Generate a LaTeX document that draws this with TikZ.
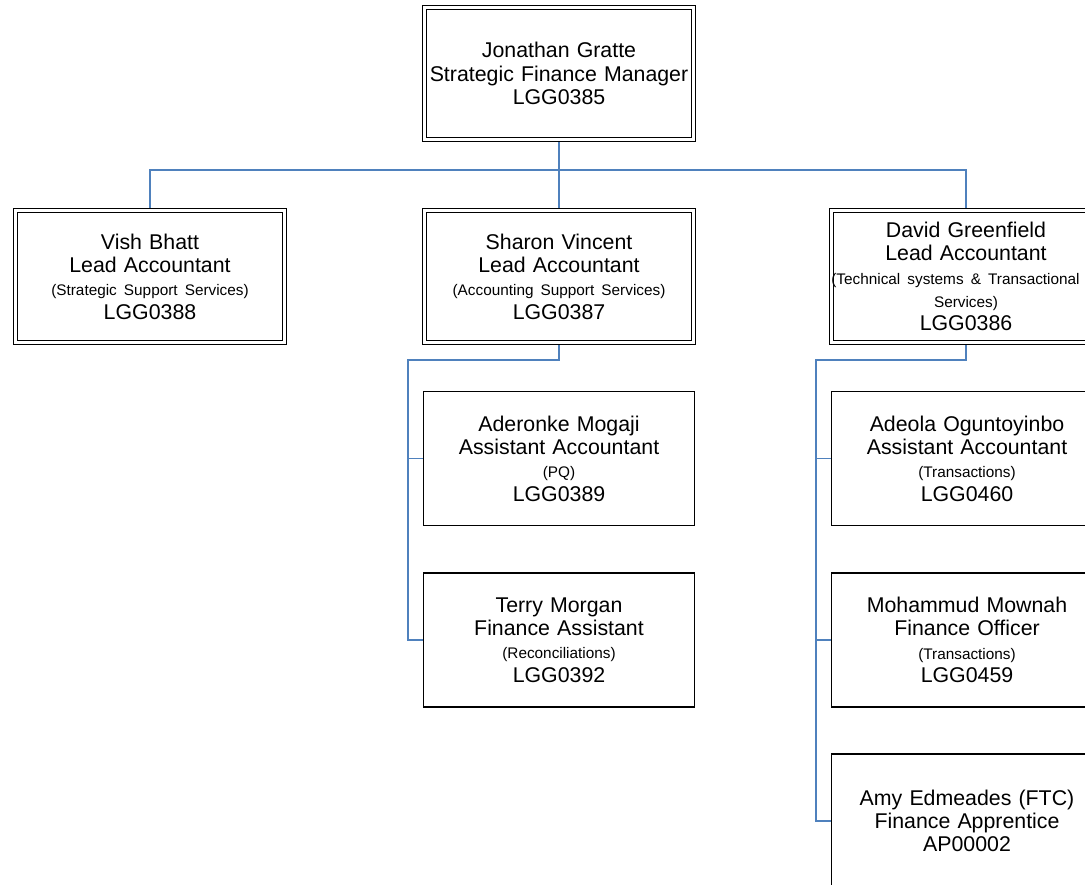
\documentclass[tikz,border=0pt]{standalone}
\usepackage{fontspec}
\setmainfont{Liberation Sans}
\definecolor{connblue}{HTML}{4F81BD}
\newcommand\smalltxt[1]{\mbox{\fontsize{11.5}{13}\selectfont #1}}
\begin{document}
\begin{tikzpicture}[x=0.75pt,y=-0.75pt,
  conn/.style={draw=connblue, line width=1pt},
  person/.style={align=center, text width=196pt, inner sep=0pt, font=\fontsize{16}{17.5}\selectfont},
  dbox/.style={person, draw=black, double=white, line width=0.9pt, double distance=2pt, minimum width=201.75pt, minimum height=99pt, outer sep=1.9pt},
  sbox/.style={person, draw=black, line width=1pt, fill=white, minimum width=203pt, minimum height=100.5pt, outer sep=0.5pt},
]
\useasboundingbox (0,0) rectangle (1085,885);
\clip (0,0) rectangle (1085,885);

\node[dbox] (top) at (559,73.5) {Jonathan Gratte\\Strategic Finance Manager\\LGG0385};

\node[dbox] (vish) at (150,276.5) {Vish Bhatt\\Lead Accountant\\\smalltxt{(Strategic Support Services)}\\LGG0388};
\node[dbox] (sharon) at (559,276.5) {Sharon Vincent\\Lead Accountant\\\smalltxt{(Accounting Support Services)}\\LGG0387};
\node[dbox] (david) at (966,276.5) {David Greenfield\\Lead Accountant\\\smalltxt{\makebox[196pt][l]{\hspace*{-3pt}(Technical systems \& Transactional}}\\\smalltxt{Services)}\\LGG0386};

\node[sbox] (ader) at (559,458.5) {Aderonke Mogaji\\Assistant Accountant\\\smalltxt{(PQ)}\\LGG0389};
\node[sbox] (terry) at (559,640) {Terry Morgan\\Finance Assistant\\\smalltxt{(Reconciliations)}\\LGG0392};

\node[sbox] (adeola) at (967,458.5) {Adeola Oguntoyinbo\\Assistant Accountant\\\smalltxt{(Transactions)}\\LGG0460};
\node[sbox] (moh) at (967,640) {Mohammud Mownah\\Finance Officer\\\smalltxt{(Transactions)}\\LGG0459};
\node[sbox] (amy) at (967,821) {Amy Edmeades (FTC)\\Finance Apprentice\\AP00002};

\draw[conn] (top.south) -- ++(0,28) -| (vish.north);
\draw[conn] (top.south) -- ++(0,28) -| (david.north);
\draw[conn] (top.south) -- (sharon.north);

\draw[conn] (sharon.south) -- ++(0,15) -| ([xshift=-11.25pt]terry.west) -- (terry.west);
\draw[conn] ([xshift=-11.25pt]ader.west) -- (ader.west);

\draw[conn] (david.south) -- ++(0,15) -| ([xshift=-11.25pt]amy.west) -- (amy.west);
\draw[conn] ([xshift=-11.25pt]adeola.west) -- (adeola.west);
\draw[conn] ([xshift=-11.25pt]moh.west) -- (moh.west);
\end{tikzpicture}
\end{document}
